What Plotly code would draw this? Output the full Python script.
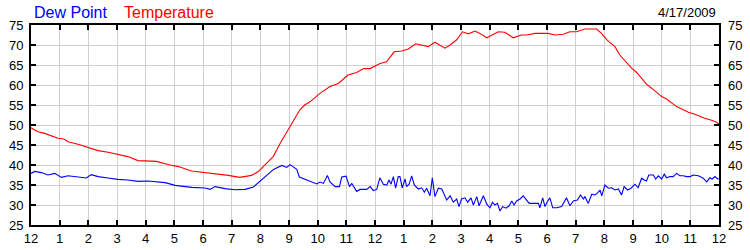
import plotly.graph_objects as go

# Hours after midnight (0 = 12 AM, 24 = next 12 AM)
temp_hours = [0.0, 0.24, 0.48, 0.71, 0.94, 1.15, 1.29, 1.64, 1.99, 2.34, 2.69, 3.03, 3.38, 3.73,
              4.08, 4.38, 4.85, 5.14, 5.6, 6.07, 6.53, 6.88, 7.28, 7.69, 7.92, 8.16, 8.45, 8.69,
              8.92, 9.15, 9.38, 9.55, 9.73, 10.08, 10.43, 10.72, 11.06, 11.36, 11.6, 11.83, 12.0,
              12.18, 12.4, 12.67, 12.93, 13.16, 13.42, 13.69, 13.86, 14.09, 14.27, 14.44, 14.62,
              14.85, 15.05, 15.26, 15.49, 15.66, 15.9, 16.19, 16.3, 16.53, 16.82, 17.1, 17.3,
              17.58, 18.04, 18.28, 18.57, 18.8, 19.03, 19.32, 19.73, 19.9, 20.02, 20.1, 20.2,
              20.37, 20.54, 20.72, 20.83, 20.95, 21.12, 21.3, 21.47, 21.65, 21.82, 22.0, 22.17,
              22.35, 22.52, 22.7, 22.93, 23.16, 23.33, 23.5, 23.74, 23.92, 24.0]
temperature = [49.3, 48.3, 47.9, 47.3, 46.7, 46.5, 45.8, 45.2, 44.4, 43.6, 43.2, 42.7, 42.1, 41.1,
               40.9, 40.9, 40.0, 39.6, 38.5, 38.1, 37.8, 37.4, 36.9, 37.4, 38.3, 40.0, 42.1, 45.4,
               48.3, 51.2, 53.8, 55.0, 55.8, 57.9, 59.6, 60.4, 62.5, 63.1, 64.1, 64.1, 64.8,
               65.4, 65.8, 68.3, 68.5, 69.0, 70.3, 69.8, 69.6, 70.7, 70.0, 69.2, 70.0,
               71.3, 73.3, 72.8, 73.5, 72.9, 71.8, 72.9, 73.3, 73.2, 71.8, 72.5, 72.5,
               72.9, 72.9, 72.5, 72.7, 73.3, 73.3, 74.0, 74.0, 72.9, 71.8, 71.2, 70.6,
               69.6, 67.5, 66.0, 65.2, 64.2, 63.2, 61.7, 60.2, 59.2, 58.2, 57.1, 56.5,
               55.4, 54.6, 54.0, 53.2, 52.7, 52.1, 51.7, 51.2, 50.7, 50.2]

dew_hours = [0.0, 0.13, 0.36, 0.59, 0.83, 1.06, 1.29, 1.52, 1.93, 2.1, 2.34, 2.69, 3.03, 3.38,
             3.73, 4.08, 4.45, 4.68, 5.03, 5.61, 6.07, 6.25, 6.42, 6.77, 7.12, 7.47, 7.76, 7.99,
             8.22, 8.46, 8.75, 8.92, 9.04, 9.27, 9.36, 9.5, 9.85, 9.97, 10.08, 10.2, 10.34,
             10.43, 10.61, 10.76, 10.84, 10.99, 11.11, 11.19, 11.36, 11.48, 11.71, 11.83, 11.94,
             12.06, 12.17, 12.29, 12.41, 12.49, 12.56, 12.64, 12.72, 12.81, 12.87, 12.95, 13.05,
             13.1, 13.19, 13.28, 13.37, 13.51, 13.63, 13.72, 13.8, 13.92, 14.0, 14.09, 14.21,
             14.33, 14.5, 14.62, 14.73, 14.85, 14.93, 15.02, 15.14, 15.23, 15.35, 15.43, 15.55,
             15.63, 15.78, 15.9, 16.01, 16.1, 16.18, 16.27, 16.36, 16.45, 16.57, 16.68, 16.77,
             16.85, 16.94, 17.06, 17.17, 17.27, 17.38, 17.7, 17.75, 17.85, 17.93, 18.01, 18.1,
             18.2, 18.34, 18.51, 18.68, 18.8, 18.92, 19.06, 19.17, 19.27, 19.32, 19.44, 19.56,
             19.67, 19.75, 19.85, 19.91, 20.02, 20.14, 20.25, 20.37, 20.49, 20.6, 20.69, 20.81,
             20.93, 21.07, 21.18, 21.3, 21.39, 21.47, 21.55, 21.71, 21.79, 21.88, 22.0, 22.09,
             22.17, 22.29, 22.4, 22.52, 22.64, 22.75, 22.87, 22.99, 23.1, 23.28, 23.45, 23.57,
             23.68, 23.76, 23.86, 23.95, 24.0]
dew_point = [37.9, 38.4, 38.1, 37.5, 37.9, 36.9, 37.3, 37.1, 36.75, 37.6, 37.1, 36.75, 36.4, 36.25,
             35.9, 36.0, 35.75, 35.6, 34.9, 34.4, 34.25, 33.9, 34.6, 34.1, 33.8, 33.9, 34.5, 35.9,
             37.25, 38.9, 39.9, 39.4, 40.1, 38.9, 37.0, 36.6, 35.75, 35.25, 35.75, 35.4, 37.4,
             35.75, 34.6, 34.6, 37.0, 37.2, 34.6, 35.4, 33.4, 33.9, 33.9, 34.6, 33.6,
             33.9, 36.8, 35.2, 35.0, 36.25, 35.2, 37.1, 34.2, 37.1, 37.1, 34.3, 36.5,
             34.6, 35.2, 37.3, 35.0, 34.0, 34.3, 33.2, 34.2, 32.3, 36.8, 32.1, 34.2,
             34.0, 31.25, 32.3, 30.7, 31.5, 29.6, 31.5, 31.8, 30.7, 31.8, 30.0, 32.1,
             29.8, 32.3, 30.2, 29.3, 30.7, 30.0, 30.4, 28.5, 29.6, 29.2, 29.8, 31.0,
             30.0, 31.0, 31.5, 32.3, 31.25, 30.4, 30.4, 29.3, 31.8, 29.6, 30.8, 31.8,
             29.3, 29.3, 29.6, 31.8, 29.8, 31.0, 31.25, 32.5, 31.5, 32.1, 30.4, 32.7,
             32.5, 32.9, 33.75, 32.3, 35.0, 34.2, 34.3, 33.75, 34.0, 32.5, 34.6, 33.75,
             34.2, 35.2, 34.3, 36.7, 36.25, 36.0, 37.5, 37.5, 36.5, 37.3, 36.5, 37.7,
             36.8, 37.1, 37.1, 37.9, 37.3, 37.3, 37.1, 37.1, 37.5, 37.3, 36.7, 35.8,
             36.8, 36.5, 37.1, 36.5, 36.5]

hour_ticks = list(range(0, 25))
hour_labels = ["12", "1", "2", "3", "4", "5", "6", "7", "8", "9", "10", "11",
               "12", "1", "2", "3", "4", "5", "6", "7", "8", "9", "10", "11", "12"]
y_ticks = [25, 30, 35, 40, 45, 50, 55, 60, 65, 70, 75]

FONT = "Liberation Sans, Arial, sans-serif"

fig = go.Figure()
fig.add_trace(go.Scatter(x=temp_hours, y=temperature, mode="lines", name="Temperature",
                         line=dict(color="#ff0000", width=1.1), yaxis="y"))
fig.add_trace(go.Scatter(x=dew_hours, y=dew_point, mode="lines", name="Dew Point",
                         line=dict(color="#0000ff", width=1.1), yaxis="y2"))

axis_common = dict(ticks="inside", ticklen=5, tickwidth=2, tickcolor="black",
                   showline=True, linecolor="black", linewidth=2, mirror="ticks",
                   showgrid=True, gridcolor="#d0d0d0", gridwidth=1, zeroline=False,
                   automargin=False,
                   tickfont=dict(family=FONT, size=13, color="black"))

fig.update_layout(
    width=750, height=250,
    margin=dict(l=31, r=31, t=25, b=25, pad=0, autoexpand=False),
    paper_bgcolor="white", plot_bgcolor="white",
    showlegend=False,
    xaxis=dict(range=[0, 24], tickvals=hour_ticks, ticktext=hour_labels,
               ticklabelstandoff=0, **axis_common),
    yaxis=dict(range=[25, 75], tickvals=y_ticks, ticklabelstandoff=3, **axis_common),
    yaxis2=dict(range=[25, 75], tickvals=y_ticks, overlaying="y", side="right",
                showgrid=False, showline=False, ticks="", zeroline=False,
                automargin=False, ticklabelstandoff=8,
                tickfont=dict(family=FONT, size=13, color="black")),
    annotations=[
        dict(text="Dew Point", x=0.002, y=1.065, xref="paper", yref="paper",
             xanchor="left", yanchor="middle", showarrow=False,
             font=dict(family=FONT, size=16, color="#0000ff")),
        dict(text="Temperature", x=0.1325, y=1.065, xref="paper", yref="paper",
             xanchor="left", yanchor="middle", showarrow=False,
             font=dict(family=FONT, size=16, color="#ff0000")),
        dict(text="4/17/2009", x=0.999, y=1.065, xref="paper", yref="paper",
             xanchor="right", yanchor="middle", showarrow=False,
             font=dict(family=FONT, size=13, color="black")),
    ],
)

fig.write_html("out.html")
